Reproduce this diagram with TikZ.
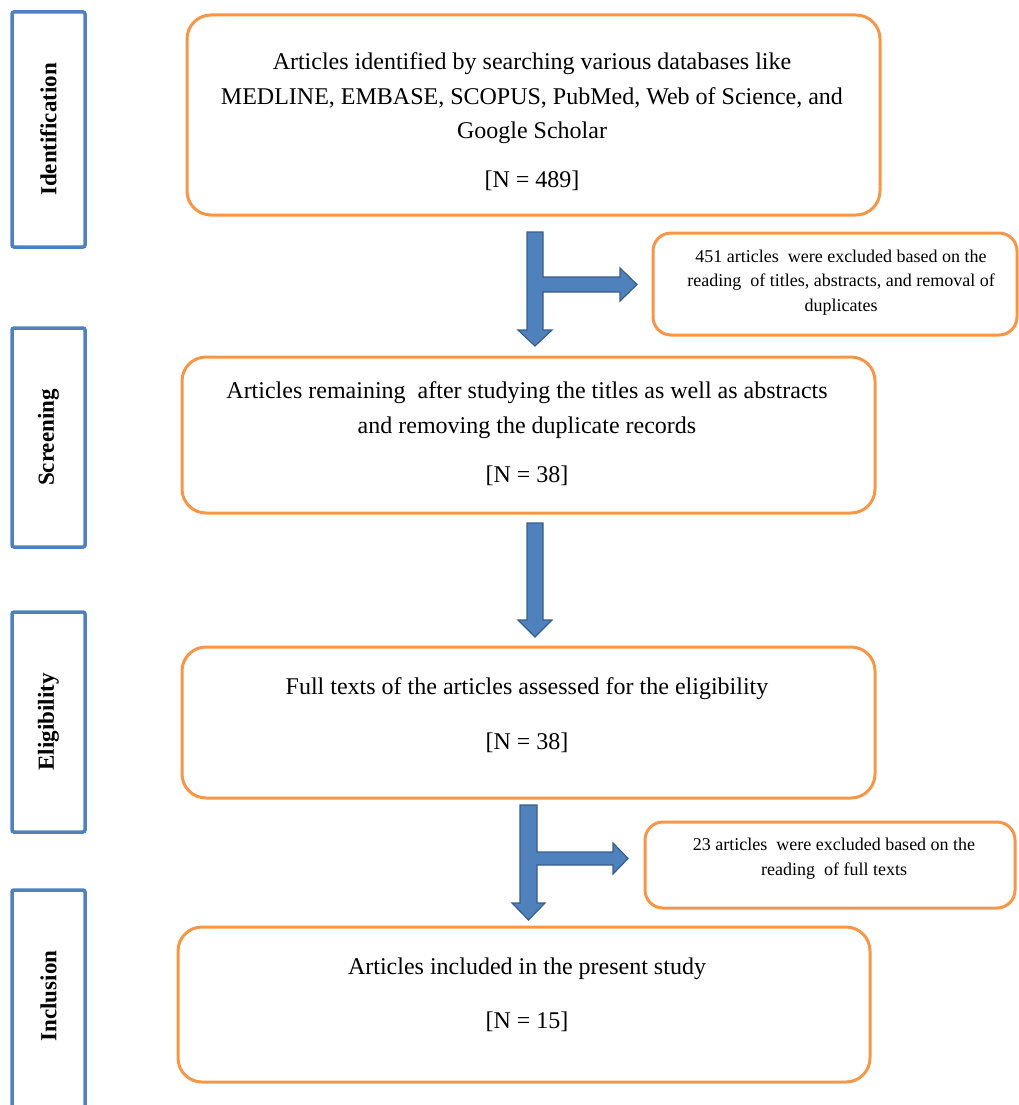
\documentclass[tikz,border=0pt]{standalone}
\usepackage{fontspec}
\setmainfont{Liberation Serif}
\definecolor{boxorange}{HTML}{F79646}
\definecolor{sideblue}{HTML}{4F81BD}
\definecolor{arrowfill}{HTML}{4F81BD}
\definecolor{arrowline}{HTML}{385D8A}
\begin{document}
\begin{tikzpicture}[x=1pt,y=-1pt,
  mainbox/.style={draw=boxorange, line width=3pt, rounded corners=24pt, inner sep=0pt},
  notebox/.style={draw=boxorange, line width=3pt, rounded corners=18pt, inner sep=0pt},
  sidebox/.style={draw=sideblue, line width=3.5pt, rounded corners=2pt, inner sep=0pt},
  maintxt/.style={align=center, inner sep=0pt, font=\fontsize{24}{34.5}\selectfont},
  notetxt/.style={align=center, inner sep=0pt, font=\fontsize{18}{24.5}\selectfont},
  sidelab/.style={rotate=90, inner sep=0pt, font=\bfseries\fontsize{23}{23}\selectfont},
  blockarrow/.style={fill=arrowfill, draw=arrowline, line width=1.2pt, line join=miter}
]
\useasboundingbox (0,0) rectangle (1019,1105);
% side stage boxes
\node[sidebox, minimum width=73pt, minimum height=235pt] (sid) at (48.5,129.5) {};
\node[sidelab] (lid) at (sid.center) {Identification};
\node[sidebox, minimum width=73pt, minimum height=219pt] (sscr) at (48.5,437.5) {};
\node[sidelab] (lscr) at (sscr.center) {Screening};
\node[sidebox, minimum width=73pt, minimum height=220pt] (selg) at (48.5,722) {};
\node[sidelab] (lelg) at (selg.center) {Eligibility};
\node[sidebox, minimum width=73pt, minimum height=260pt] (sinc) at (48.5,1020) {};
\node[sidelab] (linc) at (48.5,996) {Inclusion};
% main boxes
\node[mainbox, minimum width=693pt, minimum height=200pt] (b1) at (533.5,115) {};
\node[maintxt] (t1) at (532,121.5) {Articles identified by searching various databases like\\MEDLINE, EMBASE, SCOPUS, PubMed, Web of Science, and\\Google Scholar\\[14pt][N = 489]};
\node[mainbox, minimum width=693pt, minimum height=156pt] (b2) at (528.5,435) {};
\node[maintxt] (t2) at (527,434) {Articles remaining\ \ after studying the titles as well as abstracts\\and removing the duplicate records\\[15pt][N = 38]};
\node[mainbox, minimum width=693pt, minimum height=151pt] (b3) at (528.5,722.5) {};
\node[maintxt] (t3) at (527,715) {Full texts of the articles assessed for the eligibility\\[20pt][N = 38]};
\node[mainbox, minimum width=692pt, minimum height=155pt] (b4) at (524,1004.5) {};
\node[maintxt] (t4) at (527,995) {Articles included in the present study\\[20pt][N = 15]};
% exclusion boxes
\node[notebox, minimum width=364pt, minimum height=102pt] (n1) at (835,284) {};
\node[notetxt] (nt1) at (841,282.5) {451 articles\ \ were excluded based on the\\reading\ \ of titles, abstracts, and removal of\\duplicates};
\node[notebox, minimum width=370pt, minimum height=86pt] (n2) at (830,865) {};
\node[notetxt] (nt2) at (834,858.5) {23 articles\ \ were excluded based on the\\reading\ \ of full texts};
% block arrows
\draw[blockarrow] (527,232) -- (543,232) -- (543,277) -- (620,277) -- (620,268) -- (637,284.5)
  -- (620,301) -- (620,292) -- (543,292) -- (543,330) -- (552,330) -- (535,346) -- (518,330)
  -- (527,330) -- cycle;
\draw[blockarrow] (527,523) -- (543,523) -- (543,620) -- (552,620) -- (535,637) -- (518,620)
  -- (527,620) -- cycle;
\draw[blockarrow] (520,805) -- (537,805) -- (537,852) -- (613,852) -- (613,843) -- (628,858.5)
  -- (613,874) -- (613,865) -- (537,865) -- (537,903) -- (545,903) -- (528.5,920) -- (512,903)
  -- (520,903) -- cycle;
\end{tikzpicture}
\end{document}
